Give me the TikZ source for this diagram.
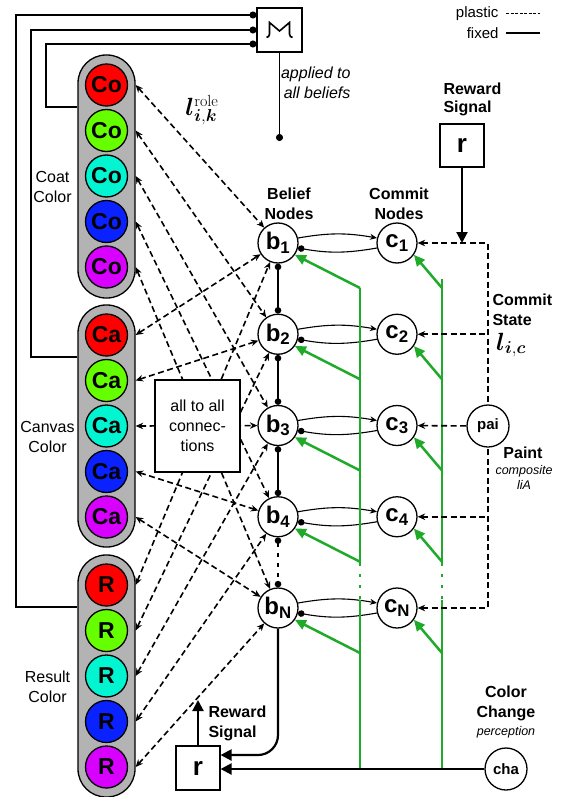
\documentclass[tikz,border=0pt]{standalone}
\usepackage{fontspec}
\usepackage{bm}
\setsansfont{Liberation Sans}
\usetikzlibrary{arrows.meta,calc}
\definecolor{cRed}{HTML}{FF0000}
\definecolor{cGreen}{HTML}{66FF00}
\definecolor{cCyan}{HTML}{00F5D0}
\definecolor{cBlue}{HTML}{0A22FF}
\definecolor{cMag}{HTML}{D800FF}
\definecolor{pillgray}{HTML}{B3B3B3}
\definecolor{gline}{HTML}{1FAA2A}
\newcommand{\fsz}[2]{\fontsize{#1}{#2}\selectfont}
\begin{document}
\begin{tikzpicture}[x=1pt,y=-1pt,font=\sffamily,
  pill/.style={draw,fill=pillgray,line width=1.3pt,rounded corners=28pt,minimum width=57pt,inner sep=0},
  colc/.style={circle,draw,line width=1.3pt,minimum size=42pt,inner sep=0,font=\sffamily\bfseries\fsz{23}{23}},
  nodec/.style={circle,draw,fill=white,line width=1.3pt,minimum size=40pt,inner sep=0,font=\sffamily\bfseries\fsz{24}{24}},
  smallc/.style={circle,draw,fill=white,line width=1.3pt,minimum size=42pt,inner sep=0,font=\sffamily\bfseries\fsz{15}{15}},
  boxn/.style={draw,fill=white,line width=1.1pt,inner sep=0},
  plasticline/.style={line width=1.6pt,dash pattern=on 6pt off 3.5pt},
  plasticboth/.style={plasticline,{Stealth[length=7.5pt,width=6.5pt]}-{Stealth[length=7.5pt,width=6.5pt]}},
  plasticin/.style={plasticline,{Stealth[length=7.5pt,width=6.5pt]}-},
  wire/.style={line width=1.4pt},
  thickarrow/.style={line width=2.2pt,-{Triangle[length=11pt,width=11pt]}},
  gl/.style={draw=gline,line width=2.5pt},
  glarrow/.style={gl,-{Triangle[length=11pt,width=10pt]}},
  lbl/.style={font=\sffamily\fsz{16}{20},align=center},
  blbl/.style={font=\sffamily\bfseries\fsz{16}{20},align=center}
]
\useasboundingbox (0,0) rectangle (560,797);

% pills
\node[pill,minimum height=243pt] (coat) at (106.5,176.5) {};
\node[pill,minimum height=242pt] (canvas) at (106.5,426) {};
\node[pill,minimum height=242pt] (result) at (106.5,676) {};

\foreach \c [count=\k] in {cRed,cGreen,cCyan,cBlue,cMag} {
  \node[colc,fill=\c] (Co\k) at (106.5,{85+45.5*(\k-1)}) {Co};
  \node[colc,fill=\c] (Ca\k) at (106.5,{335+45.5*(\k-1)}) {Ca};
  \node[colc,fill=\c] (R\k) at (106.5,{585+45.5*(\k-1)}) {R};
}

% belief and commit nodes
\foreach \i/\s in {1/1,2/2,3/3,4/4,5/N} {
  \node[nodec] (b\i) at (278,{243+91.25*(\i-1)}) {b\textsubscript{\s}};
  \node[nodec] (c\i) at (397,{243+91.25*(\i-1)}) {c\textsubscript{\s}};
}

% all-to-all plastic connections
\foreach \k in {1,...,5} {
  \draw[plasticboth] (Co\k.east -| coat.east) -- (b\k);
  \draw[plasticboth] (Ca\k.east -| canvas.east) -- (b\k);
  \draw[plasticboth] (R\k.east -| result.east) -- (b\k);
}
\node[boxn,minimum width=85pt,minimum height=92pt,lbl] (all) at (197.5,426) {all to all\\connec-\\tions};

% b <-> c
\foreach \i in {1,...,5} {
  \draw[line width=1.1pt,-{Stealth[length=7pt,width=6pt]}] (b\i.14) to[bend left=10] (c\i.166);
  \draw[line width=1.1pt,-{Circle[length=6.5pt]}] (c\i.194) to[bend left=10] (b\i.-14);
}

% belief chain
\draw[line width=1.6pt,{Circle[length=6.5pt]}-{Circle[length=6.5pt]}] (b1) -- (b2);
\draw[line width=1.6pt,{Circle[length=6.5pt]}-{Circle[length=6.5pt]}] (b2) -- (b3);
\draw[line width=1.6pt,{Circle[length=6.5pt]}-{Circle[length=6.5pt]}] (b3) -- (b4);
\draw[line width=1.6pt,dash pattern=on 4pt off 6pt,{Circle[length=6.5pt]}-{Circle[length=6.5pt]}] (b4) -- (b5);

% bottom nodes
\node[boxn,minimum width=44pt,minimum height=44pt,font=\sffamily\bfseries\fsz{26}{26}] (r) at (198,768) {r};
\node[smallc] (cha) at (506,769) {cha};
\node[smallc] (pai) at (488,426) {pai};

% green lines
\coordinate (gbtop) at (360,288);
\coordinate (gbm) at (360,563);
\coordinate (gbn) at (360,600);
\coordinate (gbbot) at (360,770);
\coordinate (gctop) at (442,279);
\coordinate (gcm) at (442,563);
\coordinate (gcn) at (442,600);
\coordinate (gcbot) at (442,770);
\draw[gl] (gbtop) -- (gbm);
\draw[gl,dash pattern=on 3pt off 8pt] (gbm) -- (gbn);
\draw[gl] (gbn) -- (gbbot);
\draw[gl] (gctop) -- (gcm);
\draw[gl,dash pattern=on 3pt off 8pt] (gcm) -- (gcn);
\draw[gl] (gcn) -- (gcbot);
\foreach \i in {1,...,5} {
  \path (b\i) ++(82,45) coordinate (gbs\i);
  \path (c\i) ++(45,45) coordinate (gcs\i);
  \draw[glarrow] (gbs\i) -- (b\i.-35);
  \draw[glarrow] (gcs\i) -- (c\i.-35);
}

% color change to r, bN to r
\draw[thickarrow] (cha) -- (cha -| r.east);
\draw[thickarrow,rounded corners=20pt] (b5.south) |- ($(r.east)+(0,-13)$);
\coordinate (rsigtip) at (198,700);
\draw[thickarrow] (r.north) -- (rsigtip);

% top reward
\node[boxn,minimum width=44pt,minimum height=43pt,font=\sffamily\bfseries\fsz{26}{26}] (rtop) at (462,145.5) {r};
\coordinate (rtip) at (462,243);
\draw[thickarrow] (rtop) -- (rtip);

% commit state dashed
\coordinate (cs1) at (488,243);
\coordinate (cs5) at (488,608);
\draw[plasticin] (c1) -- (cs1) -- (pai);
\draw[plasticin] (c2) -- (c2 -| cs1);
\draw[plasticin] (c3) -- (pai);
\draw[plasticin] (c4) -- (c4 -| cs1);
\draw[plasticin] (c5) -- (cs5) -- (pai);

% M box and wires
\node[boxn,minimum width=45pt,minimum height=44pt] (M) at (279.5,30) {};
\draw[line width=1.6pt,line join=miter] (266.5,37.5) to[out=0,in=-90] (269.5,34) -- (269.5,22.5) -- (279.5,31) -- (289.5,22.5) -- (289.5,34) to[out=-90,in=180] (292.5,37.5);
\coordinate (wx1) at (16,607);
\coordinate (wx2) at (31,357);
\coordinate (wx3) at (46,107);
\draw[wire,{Circle[length=7pt]}-] ($(M.west)+(0,-15)$) -| (wx1) -- (wx1 -| result.west);
\draw[wire,{Circle[length=7pt]}-] ($(M.west)+(0,0)$) -| (wx2) -- (wx2 -| canvas.west);
\draw[wire,{Circle[length=7pt]}-] ($(M.west)+(0,14)$) -| (wx3) -- (wx3 -| coat.west);
\coordinate (Mdot) at (279.5,141);
\draw[line width=1.6pt,-{Circle[length=7pt]}] (M.south) -- (Mdot);

% labels
\node[lbl] (lcoat) at (52.5,187) {Coat\\Color};
\node[lbl] (lcanvas) at (47.5,436.5) {Canvas\\Color};
\node[lbl] (lresult) at (47.5,687) {Result\\Color};
\node[font=\sffamily\itshape\fsz{16}{20},align=right,anchor=east] (lapplied) at (354,83) {applied to\\all beliefs};
\node[font=\fsz{23}{23},inner sep=0] (lrole) at (202,110) {$\bm{l}^{\mathrm{role}}_{\bm{i},\bm{k}}$};
\node[blbl] (lbelief) at (289,203.5) {Belief\\Nodes};
\node[blbl] (lcommit) at (399,203.5) {Commit\\Nodes};
\node[font=\sffamily\bfseries\fsz{16}{18},align=left,anchor=west] (lrew) at (440,99.5) {Reward\\Signal};
\node[font=\sffamily\bfseries\fsz{16}{20},align=left,anchor=west] (lcs) at (489,310) {Commit\\State};
\node[font=\fsz{25}{25},anchor=west,inner sep=0] (lic) at (496,345) {$\bm{l}_{\bm{i},\bm{c}}$};
\node[font=\sffamily\bfseries\fsz{16}{16}] (lpaint) at (523,453) {Paint};
\node[font=\sffamily\itshape\fsz{12.5}{15.5},align=center] (lcomp) at (524,477.5) {composite\\liA};
\node[blbl] (lcc) at (506,703) {Color\\Change};
\node[font=\sffamily\itshape\fsz{12.5}{12.5}] (lperc) at (506,732) {perception};
\node[font=\sffamily\bfseries\fsz{16}{20},align=left,anchor=west] (lrew2) at (205,723) {Reward\\Signal};

% legend
\node[font=\sffamily\fsz{15}{15},anchor=east] (lgp) at (502,14) {plastic};
\node[font=\sffamily\fsz{15}{15},anchor=east] (lgf) at (502,33) {fixed};
\coordinate (lgp1) at (506,14); \coordinate (lgp2) at (540,14);
\coordinate (lgf1) at (506,33); \coordinate (lgf2) at (540,33);
\draw[line width=1pt,dash pattern=on 3pt off 1.5pt] (lgp1) -- (lgp2);
\draw[line width=1.3pt] (lgf1) -- (lgf2);
\end{tikzpicture}
\end{document}
